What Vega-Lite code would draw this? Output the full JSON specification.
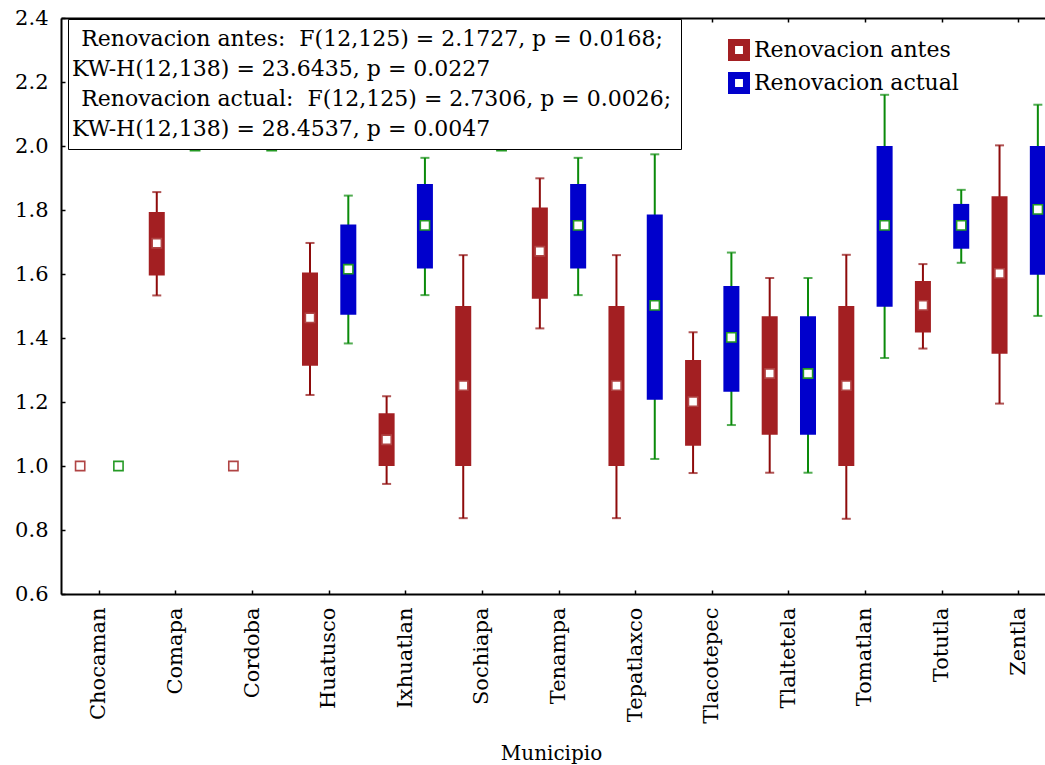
{
  "$schema": "https://vega.github.io/schema/vega-lite/v6.json",
  "autosize": {"type": "none"},
  "padding": {"left": 61, "top": 18, "right": 0, "bottom": 171},
  "width": 984,
  "height": 576,
  "background": "white",
  "config": {
    "view": {"stroke": null},
    "font": "DejaVu Serif",
    "axis": {"domainColor": "black", "domainWidth": 2, "tickColor": "black", "tickWidth": 1.5, "labelColor": "black", "titleColor": "black", "labelFont": "DejaVu Serif", "titleFont": "DejaVu Serif", "grid": false}
  },
  "datasets": {
    "cajas": [
      {"municipio": "Chocaman", "serie": "Renovacion antes", "lo": 1, "q1": 1, "med": 1, "q3": 1, "hi": 1},
      {"municipio": "Chocaman", "serie": "Renovacion actual", "lo": 1, "q1": 1, "med": 1, "q3": 1, "hi": 1},
      {"municipio": "Comapa", "serie": "Renovacion antes", "lo": 1.533, "q1": 1.595, "med": 1.696, "q3": 1.794, "hi": 1.856},
      {"municipio": "Comapa", "serie": "Renovacion actual", "lo": 2, "q1": 2, "med": 2, "q3": 2, "hi": 2},
      {"municipio": "Cordoba", "serie": "Renovacion antes", "lo": 1, "q1": 1, "med": 1, "q3": 1, "hi": 1},
      {"municipio": "Cordoba", "serie": "Renovacion actual", "lo": 2, "q1": 2, "med": 2, "q3": 2, "hi": 2},
      {"municipio": "Huatusco", "serie": "Renovacion antes", "lo": 1.222, "q1": 1.313, "med": 1.463, "q3": 1.605, "hi": 1.697},
      {"municipio": "Huatusco", "serie": "Renovacion actual", "lo": 1.383, "q1": 1.473, "med": 1.615, "q3": 1.755, "hi": 1.845},
      {"municipio": "Ixhuatlan", "serie": "Renovacion antes", "lo": 0.944, "q1": 1.0, "med": 1.082, "q3": 1.165, "hi": 1.218},
      {"municipio": "Ixhuatlan", "serie": "Renovacion actual", "lo": 1.534, "q1": 1.617, "med": 1.752, "q3": 1.881, "hi": 1.963},
      {"municipio": "Sochiapa", "serie": "Renovacion antes", "lo": 0.837, "q1": 1.0, "med": 1.251, "q3": 1.5, "hi": 1.659},
      {"municipio": "Sochiapa", "serie": "Renovacion actual", "lo": 2, "q1": 2, "med": 2, "q3": 2, "hi": 2},
      {"municipio": "Tenampa", "serie": "Renovacion antes", "lo": 1.43, "q1": 1.523, "med": 1.671, "q3": 1.808, "hi": 1.899},
      {"municipio": "Tenampa", "serie": "Renovacion actual", "lo": 1.534, "q1": 1.617, "med": 1.752, "q3": 1.881, "hi": 1.963},
      {"municipio": "Tepatlaxco", "serie": "Renovacion antes", "lo": 0.837, "q1": 1.0, "med": 1.251, "q3": 1.5, "hi": 1.659},
      {"municipio": "Tepatlaxco", "serie": "Renovacion actual", "lo": 1.022, "q1": 1.207, "med": 1.502, "q3": 1.786, "hi": 1.974},
      {"municipio": "Tlacotepec", "serie": "Renovacion antes", "lo": 0.978, "q1": 1.063, "med": 1.201, "q3": 1.331, "hi": 1.418},
      {"municipio": "Tlacotepec", "serie": "Renovacion actual", "lo": 1.128, "q1": 1.232, "med": 1.402, "q3": 1.5625, "hi": 1.667},
      {"municipio": "Tlaltetela", "serie": "Renovacion antes", "lo": 0.979, "q1": 1.098, "med": 1.289, "q3": 1.468, "hi": 1.5875},
      {"municipio": "Tlaltetela", "serie": "Renovacion actual", "lo": 0.979, "q1": 1.098, "med": 1.289, "q3": 1.468, "hi": 1.5875},
      {"municipio": "Tomatlan", "serie": "Renovacion antes", "lo": 0.835, "q1": 1.0, "med": 1.251, "q3": 1.5, "hi": 1.66},
      {"municipio": "Tomatlan", "serie": "Renovacion actual", "lo": 1.3375, "q1": 1.498, "med": 1.752, "q3": 2.0, "hi": 2.16},
      {"municipio": "Totutla", "serie": "Renovacion antes", "lo": 1.367, "q1": 1.417, "med": 1.502, "q3": 1.578, "hi": 1.631},
      {"municipio": "Totutla", "serie": "Renovacion actual", "lo": 1.635, "q1": 1.679, "med": 1.752, "q3": 1.819, "hi": 1.863},
      {"municipio": "Zentla", "serie": "Renovacion antes", "lo": 1.195, "q1": 1.351, "med": 1.602, "q3": 1.843, "hi": 2.002},
      {"municipio": "Zentla", "serie": "Renovacion actual", "lo": 1.469, "q1": 1.598, "med": 1.802, "q3": 2.0, "hi": 2.129}
    ],
    "nota": [
      {"linea": "\u200b\u00a0\u200aRenovacion antes:\u00a0\u00a0F(12,125) = 2.1727, p = 0.0168;"},
      {"linea": "KW-H(12,138) = 23.6435, p = 0.0227"},
      {"linea": "\u200b\u00a0\u200aRenovacion actual:\u00a0\u00a0F(12,125) = 2.7306, p = 0.0026;"},
      {"linea": "KW-H(12,138) = 28.4537, p = 0.0047"}
    ]
  },
  "resolve": {"axis": {"x": "independent"}},
  "layer": [
    {
      "data": {"name": "cajas"},
      "mark": {"type": "rule", "strokeWidth": 2},
      "encoding": {
        "x": {"field": "municipio", "type": "nominal", "sort": null,
              "scale": {"range": [0, 996], "paddingInner": 0, "paddingOuter": 0},
              "axis": {"orient": "bottom", "labelAngle": -90, "labelAlign": "right", "labelBaseline": "middle", "labelFontSize": 21, "tickSize": -4, "labelPadding": 17, "title": "Municipio", "titleFontSize": 20, "titleFontWeight": "normal", "titlePadding": 20, "titleX": 490}},
        "xOffset": {"field": "serie", "type": "nominal", "sort": ["Renovacion antes", "Renovacion actual"], "scale": {"paddingInner": 0.582, "paddingOuter": 0.291}},
        "y": {"field": "lo", "type": "quantitative",
              "scale": {"domain": [0.6, 2.4], "nice": false, "zero": false},
              "axis": {"values": [0.6, 0.8, 1.0, 1.2, 1.4, 1.6, 1.8, 2.0, 2.2, 2.4], "format": ".1f", "labelFontSize": 21, "tickSize": -4, "labelPadding": 17, "title": null}},
        "y2": {"field": "hi"},
        "stroke": {"condition": {"test": "datum.serie === 'Renovacion antes'", "value": "#8E0B0B"}, "value": "#0A8A0A"}
      }
    },
    {
      "data": {"name": "cajas"},
      "transform": [{"filter": "datum.lo < datum.hi"}],
      "mark": {"type": "tick", "thickness": 2, "size": 9},
      "encoding": {
        "x": {"field": "municipio", "type": "nominal", "sort": null,
              "axis": {"orient": "top", "labels": false, "tickSize": -4, "title": null}},
        "xOffset": {"field": "serie", "type": "nominal", "sort": ["Renovacion antes", "Renovacion actual"]},
        "y": {"field": "lo", "type": "quantitative"},
        "color": {"condition": {"test": "datum.serie === 'Renovacion antes'", "value": "#8E0B0B"}, "value": "#0A8A0A"}
      }
    },
    {
      "data": {"name": "cajas"},
      "transform": [{"filter": "datum.lo < datum.hi"}],
      "mark": {"type": "tick", "thickness": 2, "size": 9},
      "encoding": {
        "x": {"field": "municipio", "type": "nominal", "sort": null, "axis": null},
        "xOffset": {"field": "serie", "type": "nominal", "sort": ["Renovacion antes", "Renovacion actual"]},
        "y": {"field": "hi", "type": "quantitative"},
        "color": {"condition": {"test": "datum.serie === 'Renovacion antes'", "value": "#8E0B0B"}, "value": "#0A8A0A"}
      }
    },
    {
      "data": {"name": "cajas"},
      "mark": {"type": "bar"},
      "encoding": {
        "x": {"field": "municipio", "type": "nominal", "sort": null, "axis": null},
        "xOffset": {"field": "serie", "type": "nominal", "sort": ["Renovacion antes", "Renovacion actual"]},
        "y": {"field": "q1", "type": "quantitative"},
        "y2": {"field": "q3"},
        "fill": {"field": "serie", "type": "nominal",
                 "scale": {"domain": ["Renovacion antes", "Renovacion actual"], "range": ["#A31F22", "#0000CC"]},
                 "legend": {"title": null, "orient": "none", "legendX": 667, "legendY": 21, "padding": 0,
                            "symbolType": "M-1,-1H1V1H-1Z M-0.36,-0.36V0.36H0.36V-0.36Z", "symbolSize": 484, "symbolStrokeWidth": 0,
                            "labelFont": "DejaVu Serif", "labelFontSize": 22, "labelColor": "black", "labelOffset": 4, "rowPadding": 11, "labelLimit": 400}}
      }
    },
    {
      "data": {"name": "cajas"},
      "mark": {"type": "point", "shape": "square", "filled": false, "fill": "white", "fillOpacity": 1, "size": 85, "strokeWidth": 1.6, "opacity": 1},
      "encoding": {
        "x": {"field": "municipio", "type": "nominal", "sort": null, "axis": null},
        "xOffset": {"field": "serie", "type": "nominal", "sort": ["Renovacion antes", "Renovacion actual"]},
        "y": {"field": "med", "type": "quantitative"},
        "stroke": {"condition": {"test": "datum.serie === 'Renovacion antes'", "value": "#B04444"}, "value": "#259A25"}
      }
    },
    {
      "data": {"name": "nota"},
      "mark": {"type": "point", "opacity": 0},
      "encoding": {
        "shape": {"field": "linea", "type": "nominal", "sort": null,
                  "legend": {"title": null, "orient": "none", "legendX": 7, "legendY": 1, "padding": 9,
                             "fillColor": "white", "strokeColor": "black",
                             "symbolSize": 1, "symbolOpacity": 0, "labelOffset": -27,
                             "labelFont": "DejaVu Serif", "labelFontSize": 22, "labelColor": "black", "rowPadding": 8, "labelLimit": 900}}
      }
    }
  ]
}
